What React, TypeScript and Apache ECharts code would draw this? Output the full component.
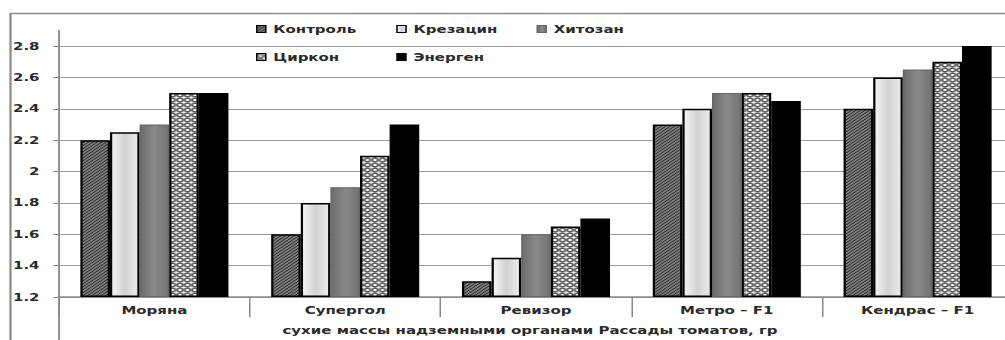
import React, { useEffect, useRef } from "react";
import * as echarts from "echarts";

const categories = ["Моряна", "Супергол", "Ревизор", "Метро – F1", "Кендрас – F1"];
const seriesNames = ["Контроль", "Крезацин", "Хитозан", "Циркон", "Энерген"];
const kontrol = [2.2, 1.6, 1.3, 2.3, 2.4];
const krezacin = [2.25, 1.8, 1.45, 2.4, 2.6];
const hitozan = [2.3, 1.9, 1.6, 2.5, 2.65];
const cirkon = [2.5, 2.1, 1.65, 2.5, 2.7];
const energen = [2.5, 2.3, 1.7, 2.45, 2.8];
const yMin = 1.2;
const yMax = 2.8;
const yStep = 0.2;
const xTitle = "сухие массы надземными органами Рассады томатов, гр";

// horizontal stretch of the whole picture (the reference is a stretched Excel chart)
const S = 1.5;
const FONT = "DejaVu Sans";

function hatchPattern() {
  const s = 3;
  const c = document.createElement("canvas");
  c.width = s;
  c.height = s;
  const g = c.getContext("2d")!;
  g.fillStyle = "#a8a8a8";
  g.fillRect(0, 0, s, s);
  g.strokeStyle = "#1e1e1e";
  g.lineWidth = 1.1;
  g.beginPath();
  g.moveTo(-1, s + 1);
  g.lineTo(s + 1, -1);
  g.moveTo(-1, 1);
  g.lineTo(1, -1);
  g.moveTo(s - 1, s + 1);
  g.lineTo(s + 1, s - 1);
  g.stroke();
  return { image: c, repeat: "repeat", imageWidth: s, imageHeight: s } as any;
}

function circlePattern() {
  const s = 5;
  const c = document.createElement("canvas");
  c.width = s;
  c.height = s;
  const g = c.getContext("2d")!;
  g.fillStyle = "#ffffff";
  g.fillRect(0, 0, s, s);
  g.strokeStyle = "#222";
  g.lineWidth = 0.7;
  const pts = [
    [0, 0],
    [s, 0],
    [0, s],
    [s, s],
    [s / 2, s / 2],
  ];
  for (const [x, y] of pts) {
    g.beginPath();
    g.arc(x, y, 1.8, 0, Math.PI * 2);
    g.stroke();
  }
  return { image: c, repeat: "repeat", imageWidth: s, imageHeight: s } as any;
}

export default function App() {
  const ref = useRef<HTMLDivElement>(null);

  useEffect(() => {
    if (!ref.current) return;
    const chart = echarts.init(ref.current, undefined, { renderer: "svg" });
    const W = 680;
    const H = 340;
    const gridLeft = 59 / S;
    const gridRightEdge = 1013 / S;
    const gridTop = 46;
    const gridBottomY = 298;

    const txt = { fontFamily: FONT, fontWeight: "bold" as const, fontSize: 10, color: "#2a2a2a" };

    const styles: any[] = [
      { color: hatchPattern(), borderColor: "#000", borderWidth: 1.5 },
      {
        color: new echarts.graphic.LinearGradient(0, 0, 1, 0, [
          { offset: 0, color: "#f6f6f6" },
          { offset: 0.5, color: "#d2d2d2" },
          { offset: 1, color: "#ececec" },
        ]),
        borderColor: "#000",
        borderWidth: 1.5,
      },
      {
        color: new echarts.graphic.LinearGradient(0, 0, 1, 0, [
          { offset: 0, color: "#6c6c6c" },
          { offset: 0.5, color: "#8a8a8a" },
          { offset: 1, color: "#727272" },
        ]),
        borderColor: "#666",
        borderWidth: 1,
      },
      { color: circlePattern(), borderColor: "#000", borderWidth: 1.5 },
      { color: "#000", borderColor: "#000", borderWidth: 1.5 },
    ];
    const data = [kontrol, krezacin, hitozan, cirkon, energen];

    const legendBase = {
      orient: "horizontal" as const,
      left: 256 / S,
      itemWidth: 6,
      itemHeight: 7,
      itemGap: 10,
      padding: 0,
      icon: "rect",
      selectedMode: false,
      itemStyle: { borderWidth: 1 },
      textStyle: { ...txt, width: 72, lineHeight: 12 },
    };

    chart.setOption({
      animation: false,
      backgroundColor: "#ffffff",
      grid: {
        left: gridLeft,
        right: W - gridRightEdge,
        top: gridTop,
        bottom: H - gridBottomY,
        containLabel: false,
      },
      legend: [
        { ...legendBase, top: 23, data: seriesNames.slice(0, 3) },
        { ...legendBase, top: 51, data: seriesNames.slice(3) },
      ],
      xAxis: {
        type: "category",
        data: categories,
        boundaryGap: true,
        axisLine: { show: true, lineStyle: { color: "#8a8a8a", width: 1.5 } },
        axisTick: { show: true, interval: 0, length: 20, lineStyle: { color: "#8a8a8a", width: 1 } },
        axisLabel: { ...txt, margin: 8, interval: 0 },
        splitLine: { show: false },
        name: xTitle,
        nameLocation: "middle",
        nameGap: 28,
        nameTextStyle: { ...txt, padding: [0, 8, 0, 0] },
      },
      yAxis: {
        type: "value",
        min: yMin,
        max: yMax,
        interval: yStep,
        startValue: yMin,
        axisLine: { show: false },
        axisTick: { show: true, length: 4, lineStyle: { color: "#8a8a8a", width: 1 } },
        axisLabel: { ...txt, margin: 13 },
        splitLine: { show: true, lineStyle: { color: "#9a9a9a", width: 1.2 } },
      },
      graphic: [
        {
          type: "rect",
          shape: { x: 10.5 / S, y: 13.5, width: 800, height: 400 },
          style: { fill: "none", stroke: "#8c8c8c", lineWidth: 1.5 },
          silent: true,
          z: 0,
        },
        {
          type: "line",
          shape: { x1: gridLeft, y1: 30, x2: gridLeft, y2: 345 },
          style: { stroke: "#8a8a8a", lineWidth: 1.2 },
          silent: true,
          z: 10,
        },
      ],
      series: seriesNames.map((name, i) => ({
        name,
        type: "bar",
        data: data[i],
        barGap: "0%",
        barCategoryGap: "22.4%",
        clip: true,
        itemStyle: styles[i],
        emphasis: { disabled: true },
      })),
    });

    return () => {
      chart.dispose();
    };
  }, []);

  return (
    <div
      style={{
        position: "fixed",
        left: 0,
        top: 0,
        width: 1005,
        height: 340,
        overflow: "hidden",
        background: "#fff",
      }}
    >
      <div
        ref={ref}
        style={{ width: 680, height: 340, transform: `scaleX(${S})`, transformOrigin: "0 0" }}
      />
    </div>
  );
}
